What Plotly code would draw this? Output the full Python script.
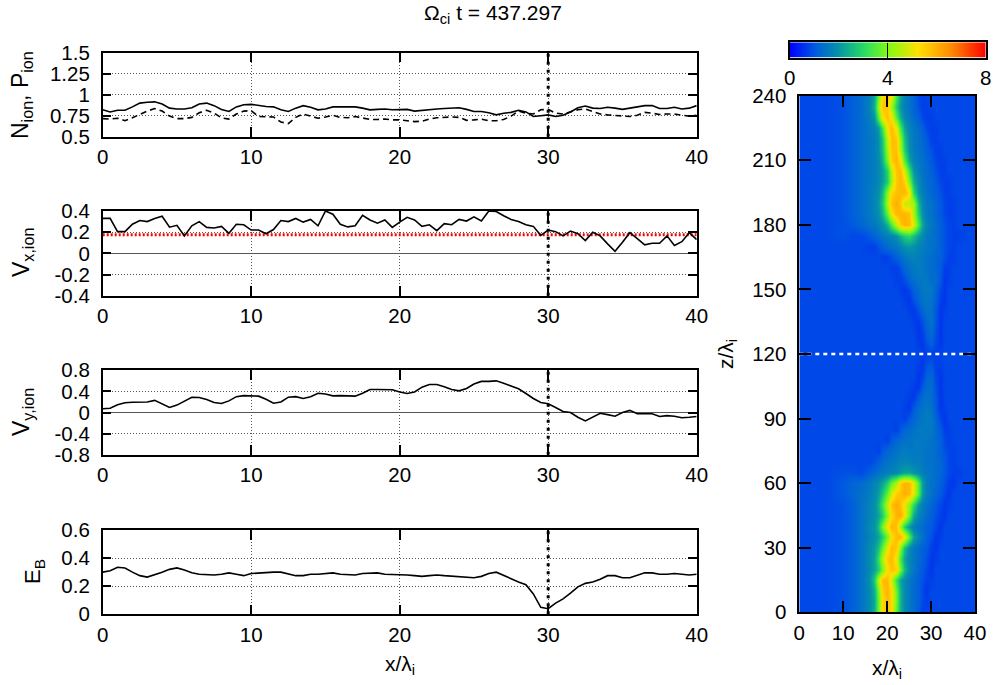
import plotly.graph_objects as go

W, H = 995, 685
FONT = "Liberation Sans"

x_profile = [i * 0.5 for i in range(81)]
n_ion = [.82,.795,.815,.815,.855,.90,.91,.915,.89,.84,.83,.83,.845,.89,.90,.87,.825,.80,.855,.88,
         .885,.87,.86,.855,.82,.80,.84,.87,.85,.82,.83,.855,.855,.855,.855,.84,.82,.825,.83,.82,
         .825,.825,.805,.815,.825,.83,.835,.84,.845,.825,.80,.80,.785,.76,.78,.79,.815,.795,.74,.75,
         .76,.74,.755,.795,.845,.865,.84,.835,.85,.84,.825,.84,.855,.87,.87,.835,.835,.85,.83,.84,.87]
p_ion = [.715,.71,.72,.69,.725,.77,.805,.835,.805,.745,.715,.715,.73,.785,.815,.78,.725,.71,.77,.805,
         .81,.74,.74,.735,.675,.655,.73,.77,.745,.72,.735,.755,.73,.725,.74,.72,.705,.705,.71,.70,
         .70,.69,.68,.685,.71,.725,.73,.735,.73,.695,.70,.71,.69,.69,.705,.745,.805,.78,.77,.82,
         .825,.78,.77,.795,.82,.83,.80,.77,.76,.755,.745,.74,.755,.79,.78,.765,.77,.77,.755,.745,.755]
v_x = [.33,.33,.205,.205,.275,.31,.30,.33,.35,.247,.265,.165,.26,.30,.245,.24,.255,.19,.275,.27,
       .22,.22,.185,.225,.31,.30,.33,.295,.32,.26,.40,.37,.275,.25,.26,.36,.315,.285,.315,.245,
       .295,.34,.315,.255,.27,.215,.28,.27,.32,.305,.345,.305,.40,.395,.355,.32,.30,.27,.255,.17,
       .22,.205,.165,.21,.185,.12,.20,.165,.09,.02,.105,.195,.14,.08,.095,.095,.165,.075,.11,.195,.13]
v_y = [.07,.08,.145,.185,.195,.195,.20,.23,.165,.095,.14,.22,.29,.285,.245,.19,.17,.22,.30,.32,
       .32,.31,.25,.175,.20,.29,.30,.265,.30,.365,.35,.315,.32,.315,.31,.365,.435,.435,.435,.43,
       .39,.36,.39,.48,.53,.53,.49,.435,.41,.455,.54,.59,.59,.60,.555,.505,.45,.36,.265,.19,
       .165,.095,.02,0,-.09,-.16,-.08,-.015,-.04,-.07,0,.04,-.025,-.025,-.025,-.075,-.06,-.07,-.10,-.09,-.075]
e_b = [.30,.31,.335,.33,.30,.275,.265,.28,.30,.32,.33,.315,.295,.285,.28,.28,.285,.295,.285,.275,
       .29,.295,.295,.30,.30,.29,.275,.275,.285,.285,.29,.295,.285,.28,.28,.29,.295,.295,.285,.285,
       .285,.28,.275,.27,.275,.28,.275,.27,.265,.26,.26,.27,.29,.30,.275,.25,.23,.21,.145,.05,
       .04,.08,.11,.15,.195,.22,.23,.25,.275,.275,.26,.26,.275,.295,.295,.285,.285,.29,.285,.28,.285]

reference_vx = 0.175
marker_x = 30
marker_z = 120

heat_x = [0,6,10,12,14,16,17,18,19,20,21,22,23,24,25,26,27,28,29,30,31,32,33,34,35,36,38,40]
heat_z = list(range(0, 245, 5))
# Density, in tenths, one row per z (bottom to top)
heat_tenths = [
[8,8,9,11,14,18,24,39,54,57,52,36,24,18,15,13,10,7,8,8,8,8,8,8,8,8,8,8],
[8,8,9,11,14,18,23,37,53,58,53,38,24,18,15,13,11,8,7,8,8,8,8,8,8,8,8,8],
[8,8,9,11,14,18,24,39,55,59,53,37,24,18,15,13,11,8,6,8,8,8,8,8,8,8,8,8],
[8,8,9,11,14,19,28,46,58,58,47,31,22,18,15,13,11,9,7,7,8,8,8,8,8,8,8,8],
[8,8,9,11,14,18,22,28,39,52,57,55,39,25,18,15,12,10,8,6,8,8,8,8,8,8,8,8],
[8,8,9,11,14,18,22,31,45,56,58,50,33,22,17,15,13,11,9,6,7,8,8,8,8,8,8,8],
[8,8,9,11,14,18,21,26,37,50,58,56,41,26,18,15,13,11,10,7,6,8,8,8,8,8,8,8],
[8,8,9,11,14,17,19,22,28,39,52,58,59,52,35,22,17,14,11,9,6,7,8,8,8,8,8,8],
[8,8,9,11,14,18,20,26,39,52,59,57,43,28,20,16,14,13,11,10,8,6,8,8,8,8,8,8],
[8,8,9,11,14,17,19,22,28,41,53,59,60,53,37,23,17,15,13,11,9,7,6,8,8,8,8,8],
[8,8,9,11,14,17,19,24,33,46,57,61,57,50,41,30,20,16,14,12,10,8,6,7,8,8,8,8],
[8,8,10,12,14,16,18,21,27,37,48,55,57,60,58,50,35,21,16,14,12,10,8,6,8,8,8,8],
[8,8,10,12,13,15,17,19,22,28,37,44,55,59,58,50,35,21,16,14,13,11,9,7,6,8,8,8],
[8,8,9,9,8,11,13,14,15,16,17,18,20,22,22,20,18,16,15,14,13,12,10,8,7,7,8,8],
[8,8,8,8,8,8,9,11,13,14,15,16,17,17,17,16,16,15,14,14,13,12,10,8,7,8,8,8],
[8,8,8,8,8,8,8,7,10,12,13,14,15,16,15,15,15,15,14,14,13,11,9,8,7,8,8,8],
[8,8,8,8,8,8,8,8,8,7,10,12,13,14,14,15,15,15,15,14,13,11,8,7,8,8,8,8],
[8,8,8,8,8,8,8,8,8,8,8,7,10,12,13,14,15,15,15,15,13,10,7,7,8,8,8,8],
[8,8,8,8,8,8,8,8,8,8,8,8,8,7,10,12,14,15,16,15,12,8,6,8,8,8,8,8],
[8,8,8,8,8,8,8,8,8,8,8,8,8,7,6,10,13,14,15,14,10,6,7,8,8,8,8,8],
[8,8,8,8,8,8,8,8,8,8,8,8,8,8,7,6,10,13,14,13,10,6,8,8,8,8,8,8],
[8,8,8,8,8,8,8,8,8,8,8,8,8,8,8,7,6,10,13,13,9,6,8,8,8,8,8,8],
[8,8,8,8,8,8,8,8,8,8,8,8,8,8,8,8,6,7,11,12,8,6,8,8,8,8,8,8],
[8,8,8,8,8,8,8,8,8,8,8,8,8,8,8,8,7,6,9,10,7,7,8,8,8,8,8,8],
[8,8,8,8,8,8,8,8,8,8,8,8,8,8,8,8,8,7,7,7,7,8,8,8,8,8,8,8],
[8,8,8,8,8,8,8,8,8,8,8,8,8,8,8,8,7,6,9,11,8,6,8,8,8,8,8,8],
[8,8,8,8,8,8,8,8,8,8,8,8,8,8,8,8,6,7,11,13,9,6,8,8,8,8,8,8],
[8,8,8,8,8,8,8,8,8,8,8,8,8,8,8,7,6,9,12,14,10,6,8,8,8,8,8,8],
[8,8,8,8,8,8,8,8,8,8,8,8,8,8,7,6,9,12,14,14,10,6,7,8,8,8,8,8],
[8,8,8,8,8,8,8,8,8,8,8,8,8,7,6,9,12,14,15,14,11,7,6,8,8,8,8,8],
[8,8,8,8,8,8,8,8,8,8,8,8,7,6,8,11,13,15,15,15,12,8,6,8,8,8,8,8],
[8,8,8,8,8,8,8,8,8,8,8,7,7,9,12,14,15,15,15,13,13,10,6,7,8,8,8,8],
[8,8,8,8,8,8,8,8,8,8,7,7,9,12,14,15,16,15,14,13,12,10,7,7,8,8,8,8],
[8,8,8,8,8,8,8,8,7,7,9,11,13,15,16,17,16,15,14,13,12,11,9,7,7,8,8,8],
[8,8,8,8,8,7,7,9,11,13,14,15,17,19,20,19,17,16,15,14,13,11,9,8,7,8,8,8],
[8,8,9,8,8,10,12,13,15,16,17,19,24,28,30,26,21,18,15,14,13,11,9,8,7,7,8,8],
[8,8,9,10,12,14,15,17,19,24,34,46,56,59,58,50,34,22,17,15,13,11,9,8,7,8,8,8],
[8,8,9,11,13,15,17,19,24,37,52,58,59,59,57,44,28,19,15,14,12,10,8,7,7,8,8,8],
[8,8,9,11,13,15,17,20,27,44,57,60,56,46,46,44,25,18,15,14,12,10,8,7,7,8,8,8],
[8,8,9,11,13,15,17,19,25,41,54,57,58,59,52,30,20,16,14,12,11,9,7,7,8,8,8,8],
[8,8,9,11,13,15,16,18,21,28,43,56,59,55,39,24,18,15,13,12,10,8,7,7,8,8,8,8],
[8,8,9,11,13,15,16,18,21,29,46,57,58,48,31,20,16,14,13,11,9,7,7,8,8,8,8,8],
[8,8,9,11,13,15,16,18,24,39,55,59,52,35,22,17,15,14,12,10,8,7,7,8,8,8,8,8],
[8,8,9,11,13,15,16,19,26,43,57,57,44,28,19,16,14,13,11,9,7,7,8,8,8,8,8,8],
[8,8,9,11,13,15,16,19,27,46,58,56,41,26,18,15,14,12,10,7,7,8,8,8,8,8,8,8],
[8,8,9,11,13,15,17,21,33,52,58,50,33,22,17,15,13,11,8,7,7,8,8,8,8,8,8,8],
[8,8,9,11,13,16,20,35,52,57,52,35,24,18,15,13,11,8,7,7,8,8,8,8,8,8,8,8],
[8,8,9,11,13,17,24,43,57,56,43,28,20,16,14,12,9,7,7,8,8,8,8,8,8,8,8,8],
[8,8,9,11,13,16,22,37,53,57,50,33,22,17,14,12,8,7,8,8,8,8,8,8,8,8,8,8],
]
heat = [[v / 10 for v in row] for row in heat_tenths]

color_levels = [i / 10 for i in range(81)]

colorscale = [[0, "rgb(0,0,255)"], [0.125, "rgb(0,90,225)"], [0.25, "rgb(5,150,165)"],
              [0.375, "rgb(40,220,100)"], [0.5, "rgb(130,250,20)"], [0.65, "rgb(255,225,0)"],
              [0.82, "rgb(255,140,0)"], [1, "rgb(255,0,0)"]]

def fx(px): return px / W
def fy(px): return 1 - px / H

fig = go.Figure()
TF = dict(family=FONT, size=20.5, color="black")
GRID = dict(showgrid=True, gridcolor="#555", griddash="1px,2px", gridwidth=1)

panels = [
    ("", "y",  (52.7, 136.7), (0.5, 1.5),  [0.5, 0.75, 1, 1.25, 1.5], ["0.5", "0.75", "1", "1.25", "1.5"]),
    ("2", "y2", (211, 295.7), (-0.4, 0.4), [-0.4, -0.2, 0, 0.2, 0.4], ["-0.4", "-0.2", "0", "0.2", "0.4"]),
    ("3", "y3", (370.3, 454.7), (-0.8, 0.8), [-0.8, -0.4, 0, 0.4, 0.8], ["-0.8", "-0.4", "0", "0.4", "0.8"]),
    ("4", "y4", (530, 614.3), (0, 0.6), [0, 0.2, 0.4, 0.6], ["0", "0.2", "0.4", "0.6"]),
]
for suffix, _, (top, bot), rng, tv, tt in panels:
    fig.update_layout({
        "xaxis" + suffix: dict(domain=[fx(102.7), fx(696.7)], range=[0, 40], anchor="y" + suffix,
                               tickvals=[0, 10, 20, 30, 40], ticks="inside", ticklen=10, tickwidth=1.5,
                               tickcolor="black", showline=True, linecolor="black", linewidth=1.5,
                               mirror="allticks", zeroline=False, tickfont=TF, ticklabelstandoff=1, **GRID),
        "yaxis" + suffix: dict(domain=[fy(bot), fy(top)], range=list(rng), anchor="x" + suffix,
                               tickvals=tv, ticktext=tt, ticks="inside", ticklen=9, tickwidth=1.5,
                               tickcolor="black", showline=True, linecolor="black", linewidth=1.5,
                               mirror="allticks", zeroline=suffix in ("2", "3"), zerolinecolor="#555",
                               zerolinewidth=1, tickfont=TF, ticklabelstandoff=7, **GRID),
    })

def line(x, y, xa, ya, color="black", width=1.6, dash="solid"):
    fig.add_trace(go.Scatter(x=x, y=y, xaxis=xa, yaxis=ya, mode="lines", showlegend=False,
                             hoverinfo="skip", line=dict(color=color, width=width, dash=dash)))

line(x_profile, n_ion, "x", "y")
line(x_profile, p_ion, "x", "y", dash="6px,4px")
line([0, 40], [reference_vx, reference_vx], "x2", "y2", color="#ff0000", width=3, dash="2px,2px")
line(x_profile, v_x, "x2", "y2")
line(x_profile, v_y, "x3", "y3")
line(x_profile, e_b, "x4", "y4")
for suffix, _, _, rng, _, _ in panels:
    line([marker_x, marker_x], list(rng), "x" + suffix, "y" + suffix, width=3, dash="3px,5px")

fig.add_trace(go.Heatmap(
    x=heat_x, y=heat_z, z=heat, xaxis="x5", yaxis="y5", zmin=0, zmax=8, zsmooth="best",
    colorscale=colorscale, hoverinfo="skip", showscale=False,
))
line([0, 40], [marker_z, marker_z], "x5", "y5", color="white", width=2.5, dash="4px,4px")

# Colour key: the same colour scale drawn along its own axis
fig.add_trace(go.Heatmap(
    x=color_levels, y=[0, 1], z=[color_levels, color_levels], xaxis="x6", yaxis="y6",
    zmin=0, zmax=8, zsmooth="best", colorscale=colorscale, hoverinfo="skip", showscale=False,
))

fig.update_layout(
    xaxis5=dict(domain=[fx(799.3), fx(975)], range=[0, 40], anchor="y5", tickvals=[0, 10, 20, 30, 40],
                ticks="inside", ticklen=12, tickwidth=1.5, tickcolor="black", showline=True,
                linecolor="black", linewidth=1.5, mirror="allticks", showgrid=False, zeroline=False,
                tickfont=TF, ticklabelstandoff=1),
    yaxis5=dict(domain=[fy(612.3), fy(95.7)], range=[0, 240], anchor="x5",
                tickvals=[0, 30, 60, 90, 120, 150, 180, 210, 240], ticks="inside", ticklen=12,
                tickwidth=1.5, tickcolor="black", showline=True, linecolor="black", linewidth=1.5,
                mirror="allticks", showgrid=False, zeroline=False, tickfont=TF, ticklabelstandoff=7),
    xaxis6=dict(domain=[fx(789.7), fx(985.7)], range=[0, 8], anchor="y6", tickvals=[0, 4, 8],
                ticks="inside", ticklen=15.4, tickwidth=1.2, tickcolor="black", showline=True,
                linecolor="black", linewidth=1.5, mirror=True, showgrid=False, zeroline=False,
                tickfont=TF, ticklabelstandoff=1),
    yaxis6=dict(domain=[fy(57.7), fy(42.3)], range=[0, 1], anchor="x6", showticklabels=False,
                ticks="", showline=True, linecolor="black", linewidth=1.5, mirror=True,
                showgrid=False, zeroline=False),
    width=W, height=H, autosize=False, margin=dict(l=0, r=0, t=0, b=0, autoexpand=False),
    paper_bgcolor="white", plot_bgcolor="white", showlegend=False,
    font=dict(family=FONT, color="black"),
)

def note(text, x, y, angle=0, size=20.5):
    fig.add_annotation(text=text, x=fx(x), y=fy(y), xref="paper", yref="paper", showarrow=False,
                       textangle=angle, xanchor="center", yanchor="middle",
                       font=dict(family=FONT, size=size, color="black"))

note("Ω<sub>ci</sub> t = 437.297", 493, 14, size=21)
note("N<sub>ion</sub>, P<sub>ion</sub>", 22, 95, angle=-90, size=23)
note("V<sub>x,ion</sub>", 22, 253, angle=-90, size=23)
note("V<sub>y,ion</sub>", 22, 412, angle=-90, size=23)
note("E<sub>B</sub>", 34, 572, angle=-90, size=22)
note("x/λ<sub>i</sub>", 400, 665, size=21)
note("x/λ<sub>i</sub>", 887, 669, size=21)
note("z/λ<sub>i</sub>", 727, 354, angle=-90, size=21)

fig.write_html("out.html", post_script="document.body.style.margin='0';",
               config=dict(displayModeBar=False))
